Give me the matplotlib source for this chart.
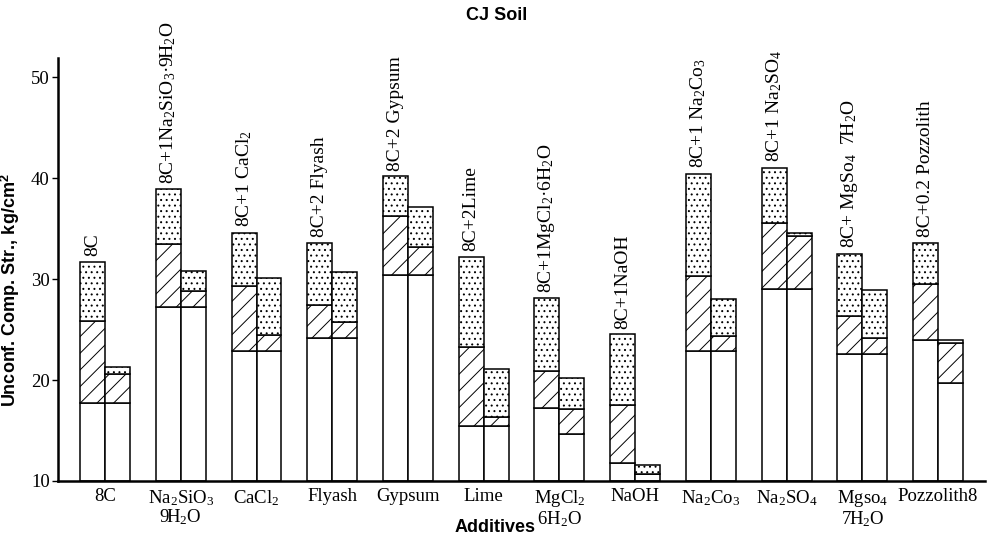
import numpy as np
import matplotlib
matplotlib.use('Agg')
import matplotlib.pyplot as plt

plt.rcParams['mathtext.fontset'] = 'custom'
plt.rcParams['mathtext.rm'] = 'Liberation Serif'
plt.rcParams['mathtext.it'] = 'Liberation Serif:italic'
plt.rcParams['hatch.linewidth'] = 0.7

# Dados (kg/cm²)
aditivos = ['8C', 'Na$_2$SiO$_3$\n9H$_2$O', 'CaCl$_2$', 'Flyash', 'Gypsum', 'Lime',
            'MgCl$_2$\n6H$_2$O', 'NaOH', 'Na$_2$Co$_3$', 'Na$_2$SO$_4$',
            'Mgso$_4$\n7H$_2$O', 'Pozzolith8']
rotulos = ['8C', '8C+1Na$_2$SiO$_3$·9H$_2$O', '8C+1 CaCl$_2$', '8C+2 Flyash',
           '8C+2 Gypsum', '8C+2Lime', '8C+1MgCl$_2$·6H$_2$O', '8C+1NaOH',
           '8C+1 Na$_2$Co$_3$', '8C+1 Na$_2$SO$_4$', '8C+ MgSo$_4$  7H$_2$O',
           '8C+0.2 Pozzolith']

barra1_branco = [17.75, 27.2, 22.9, 24.2, 30.4, 15.4, 17.2, 11.75, 22.9, 29.0, 22.6, 24.0]
barra1_hachura = [25.8, 33.5, 29.3, 27.4, 36.2, 23.3, 20.9, 17.5, 30.3, 35.6, 26.3, 29.5]
barra1_topo = [31.7, 38.9, 34.6, 33.6, 40.2, 32.2, 28.1, 24.55, 40.45, 41.0, 32.5, 33.6]

barra2_branco = [17.75, 27.2, 22.9, 24.2, 30.4, 15.4, 14.65, 10.7, 22.9, 29.0, 22.6, 19.7]
barra2_hachura = [20.6, 28.8, 24.5, 25.7, 33.2, 16.3, 17.1, 10.7, 24.4, 34.3, 24.2, 23.7]
barra2_topo = [21.3, 30.8, 30.1, 30.7, 37.1, 21.1, 20.2, 11.6, 28.0, 34.6, 28.9, 24.0]

base = 10
largura = 0.33
serif = 'Liberation Serif'

fig = plt.figure(figsize=(9.95, 5.4), dpi=100)
ax = fig.add_axes([0.0583, 0.1093, 0.9317, 0.7833])

x = np.arange(len(aditivos))


def empilhar(pos, branco, hachura, topo):
    branco = np.array(branco)
    hachura = np.array(hachura)
    topo = np.array(topo)
    kw = dict(width=largura, align='edge', facecolor='white', edgecolor='black', linewidth=1.1)
    ax.bar(pos, branco - base, bottom=base, **kw)
    ax.bar(pos, hachura - branco, bottom=branco, hatch='//', **kw)
    ax.bar(pos, topo - hachura, bottom=hachura, hatch='...', **kw)


empilhar(x - largura, barra1_branco, barra1_hachura, barra1_topo)
empilhar(x, barra2_branco, barra2_hachura, barra2_topo)

for i, rotulo in enumerate(rotulos):
    ax.annotate(rotulo, (x[i] - largura / 2, barra1_topo[i]), xytext=(0, 4),
                textcoords='offset points', rotation=90, ha='center', va='bottom',
                fontsize=14, family=serif, annotation_clip=False)

ax.set_xlim(-0.621, 11.62)
ax.set_ylim(10, 51.9)
ax.set_xticks(x)
ax.set_xticklabels(aditivos, family=serif, fontsize=13.5, linespacing=1.0)
ax.set_yticks([10, 20, 30, 40, 50])
ax.set_yticklabels(['10', '20', '30', '40', '50'], family=serif, fontsize=13.5)
ax.tick_params(axis='x', length=0, pad=5)
ax.tick_params(axis='y', length=4, width=1, direction='out', pad=2)

for lado in ['top', 'right']:
    ax.spines[lado].set_visible(False)
for lado in ['left', 'bottom']:
    ax.spines[lado].set_linewidth(1.8)

ax.set_ylabel('Unconf. Comp. Str., kg/cm$^\\mathregular{2}$', family='Liberation Sans',
              fontsize=13, fontweight='bold')
ax.yaxis.set_label_coords(-0.039, 0.45)

fig.text(497 / 995, 1 - 15 / 540, 'CJ Soil', ha='center', va='center', family='Liberation Sans',
         fontsize=13, fontweight='bold')
fig.text(495 / 995, 1 - 528 / 540, 'Additives', ha='center', va='center',
         family='Liberation Sans', fontsize=13, fontweight='bold')

plt.savefig('out.png', dpi=100)
